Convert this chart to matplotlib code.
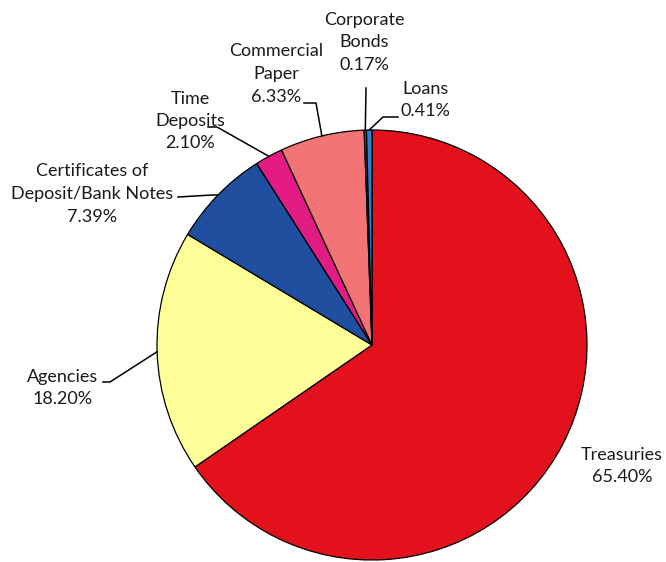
import numpy as np
import matplotlib.pyplot as plt

plt.rcParams['font.family'] = ['Lato', 'DejaVu Sans']

# portfolio composition, clockwise from 12 o'clock
labels = ['Treasuries', 'Agencies', 'Certificates of\nDeposit/Bank Notes',
          'Time\nDeposits', 'Commercial\nPaper', 'Corporate\nBonds', 'Loans']
shares = [65.40, 18.20, 7.39, 2.10, 6.33, 0.17, 0.41]
colors = ['#e3111b', '#ffff99', '#1f4f9e', '#e31b84', '#f27474', '#4a4a6a', '#2e7fd2']

W, H = 666, 562
fig = plt.figure(figsize=(W / 100, H / 100), dpi=100)
ax = fig.add_axes([0, 0, 1, 1])

cx, cy, r = 372, H - 345, 215
wedges, _ = ax.pie(shares, colors=colors, startangle=90, counterclock=False,
                   center=(cx, cy), radius=r, frame=True,
                   wedgeprops=dict(edgecolor='black', linewidth=0.9))
ax.set_xlim(0, W)
ax.set_ylim(0, H)
ax.axis('off')

# label block centre (x, y from top) and leader elbow points (None = no leader)
label_pos = [(622, 466), (63, 388), (92, 194), (190, 121), (276, 74), (364, 42), (425, 100)]
leaders = [None,
           [(103, 382), (110, 382)],
           [(178, 197), (212, 195)],
           [(208, 127), (217, 127)],
           [(304, 103), (316, 103)],
           [(366, 88)],
           [(398, 117), (383, 117)]]

for w, lab, val, (tx, ty), pts in zip(wedges, labels, shares, label_pos, leaders):
    ax.text(tx, H - ty, f'{lab}\n{val:.2f}%', ha='center', va='center',
            fontsize=13, linespacing=1.5, color='#1a1a1a')
    if pts is None:
        continue
    mid = np.deg2rad((w.theta1 + w.theta2) / 2)
    ex, ey = cx + r * np.cos(mid), cy + r * np.sin(mid)
    xs = [p[0] for p in pts] + [ex]
    ys = [H - p[1] for p in pts] + [ey]
    ax.plot(xs, ys, color='black', linewidth=1.1)

fig.savefig('out.png', dpi=100, facecolor='white')
